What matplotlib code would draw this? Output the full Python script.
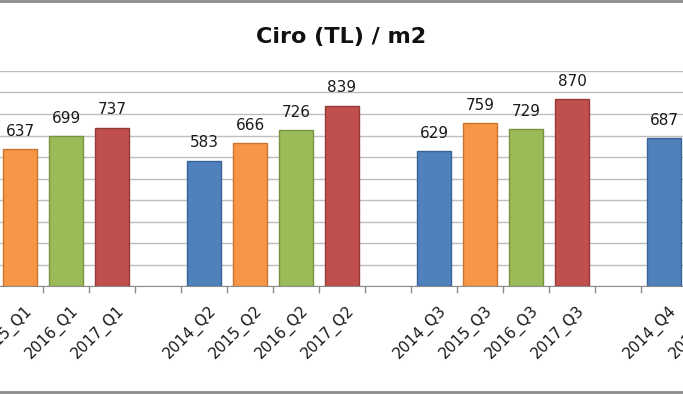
import numpy as np
import matplotlib.pyplot as plt

# visible part of the chart: one slot per quarter/year, '' = empty gap slot
categories = ['2015_Q1', '2016_Q1', '2017_Q1', '',
              '2014_Q2', '2015_Q2', '2016_Q2', '2017_Q2', '',
              '2014_Q3', '2015_Q3', '2016_Q3', '2017_Q3', '',
              '2014_Q4', '2015_Q4']
values = [637, 699, 737, np.nan,
          583, 666, 726, 839, np.nan,
          629, 759, 729, 870, np.nan,
          687, np.nan]

year_colors = {'2014': '#4F81BD', '2015': '#F79646', '2016': '#9BBB59', '2017': '#C0504D'}
year_edges = {'2014': '#3A6394', '2015': '#C9752F', '2016': '#789340', '2017': '#953B39'}

plt.rcParams['font.family'] = ['DejaVu Sans']

fig = plt.figure(figsize=(6.83, 3.94), dpi=100)
ax = fig.add_axes([0, 0.2741, 1, 0.5457])

x = np.arange(1, len(categories) + 1)
colors = [year_colors.get(c[:4], 'none') for c in categories]
edges = [year_edges.get(c[:4], 'none') for c in categories]
ax.bar(x, values, width=0.72, color=colors, edgecolor=edges, linewidth=1.0, zorder=3)

# value labels above bars
for xi, v in zip(x, values):
    if not np.isnan(v):
        ax.annotate(str(int(v)), (xi, v), xytext=(0, 9.5), textcoords='offset points',
                    ha='center', va='baseline', fontsize=11, color='#1a1a1a')

# category labels drawn by hand so the one past the right edge still shows
for xi, c in zip(x, categories):
    ax.annotate(c, xy=(xi, 0), xycoords=('data', 'axes fraction'),
                xytext=(3, -12), textcoords='offset points',
                rotation=45, ha='right', va='top', rotation_mode='anchor',
                fontsize=11, color='#1a1a1a', annotation_clip=False)

ax.set_yticks(np.arange(0, 1001, 100))
ax.yaxis.grid(True, color='#BEBEBE', linewidth=1.0, zorder=0)
ax.tick_params(axis='y', left=False, labelleft=False)

ax.set_xticks([])
ax.set_xticks(np.arange(0.5, len(categories) + 1, 1), minor=True)
ax.tick_params(axis='x', which='minor', length=5, color='#8C8C8C', width=1)

ax.set_xlim(0.565, 15.413)
ax.set_ylim(0, 1000)

for side in ['top', 'left', 'right']:
    ax.spines[side].set_visible(False)
ax.spines['bottom'].set_color('#8C8C8C')

fig.text(0.5, 0.905, 'Ciro (TL) / m2', ha='center', va='center',
         fontsize=16, fontweight='bold', color='#111111')

# chart frame (top and bottom edges remain in the crop)
fig.add_artist(plt.Line2D([0, 1], [0.998, 0.998], color='#8C8C8C', linewidth=2))
fig.add_artist(plt.Line2D([0, 1], [0.004, 0.004], color='#8C8C8C', linewidth=2))

fig.savefig('out.png', dpi=100)
